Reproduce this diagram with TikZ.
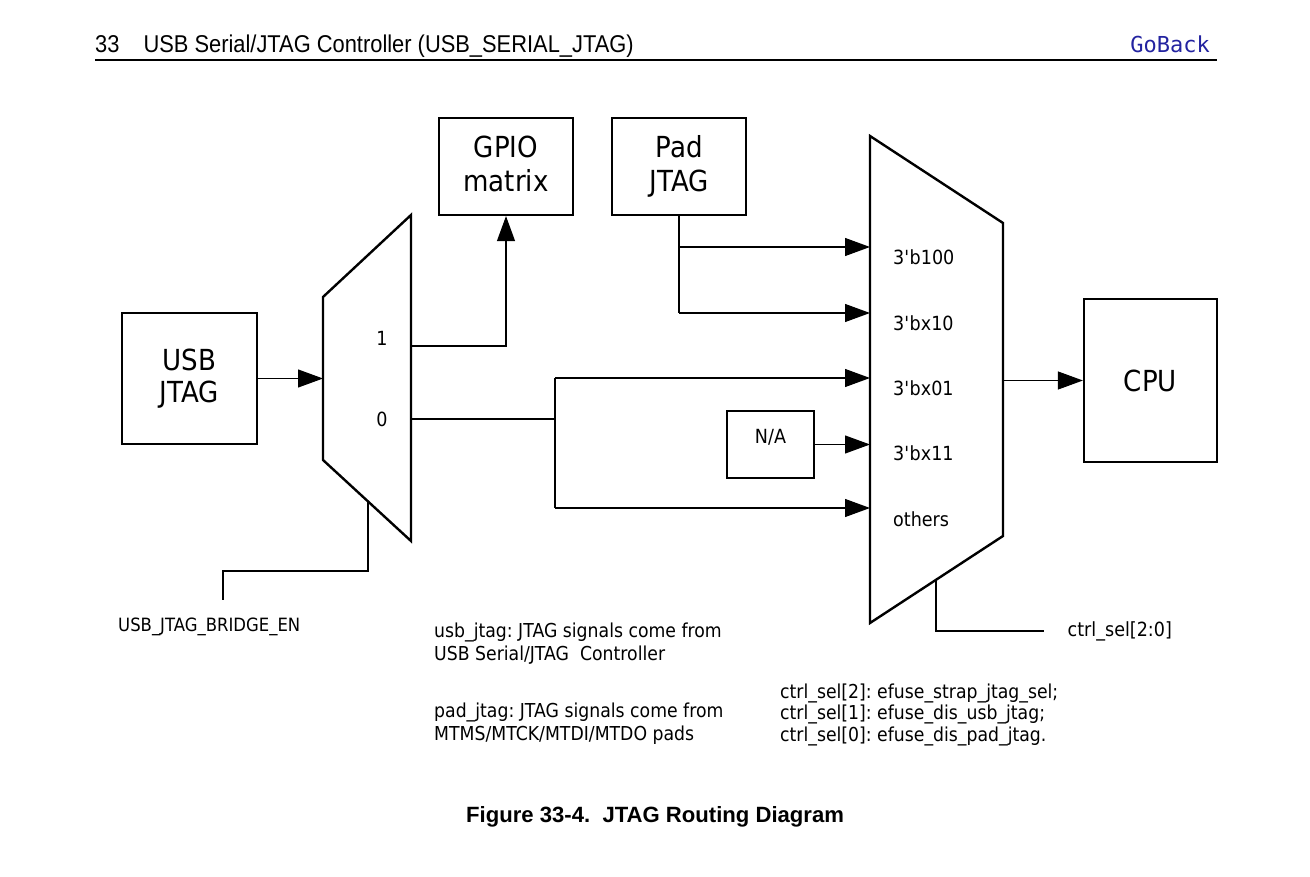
\documentclass[tikz,border=0pt]{standalone}
\usepackage{fontspec}
\setmainfont[FakeStretch=0.9]{DejaVu Sans}
\newfontfamily\hdrfont[FakeStretch=0.9]{Liberation Sans}
\newfontfamily\capfont{Liberation Sans}
\newfontfamily\gofont{DejaVu Sans Mono}
\usetikzlibrary{arrows.meta}
\definecolor{goblue}{RGB}{35,35,160}
\frenchspacing
\begin{document}
\begin{tikzpicture}[x=1pt,y=-1pt,
  box/.style={draw, line width=2.2pt, inner sep=0pt, align=center,
    font=\fontsize{29}{33.4}\selectfont},
  mux/.style={draw, line width=2.4pt, line join=miter},
  wire/.style={line width=1.1pt},
  arr/.style={wire, -{Triangle[length=25pt,width=18pt]}},
  lbl/.style={inner sep=0pt, font=\fontsize{19.5}{23}\selectfont},
  note/.style={inner sep=0pt, align=left, font=\fontsize{19.2}{23}\selectfont}]
\useasboundingbox (0,0) rectangle (1310,877);

% header
\node[inner sep=0pt, anchor=base west, font=\hdrfont\fontsize{24.3}{28}\selectfont] (hdr) at (95,53) {33\hspace{24pt}USB Serial/JTAG Controller (USB\_SERIAL\_JTAG)};
\node[inner sep=0pt, anchor=base east, text=goblue, font=\gofont\fontsize{22}{26}\selectfont] (goback) at (1210,53) {GoBack};
\coordinate (rl) at (95,60);
\coordinate (rr) at (1217,60);
\draw[line width=1.4pt] (rl) -- (rr);

% boxes
\node[box, minimum width=135pt, minimum height=131pt, font=\fontsize{29}{32}\selectfont] (usb) at (189.5,378.5) {USB\\JTAG};
\node[box, minimum width=134pt, minimum height=97pt] (gpio) at (506,166.5) {GPIO\\matrix\vphantom{J}};
\node[box, minimum width=134pt, minimum height=97pt] (pad) at (679,166.5) {Pad\\JTAG};
\node[box, minimum width=133pt, minimum height=163pt] (cpu) at (1150.5,380.5) {CPU};
\node[draw, line width=2.2pt, inner sep=0pt, minimum width=87pt, minimum height=67pt] (na) at (770.5,444.5) {};
\node[lbl] (natext) at (770.5,437) {N/A};

% mux 1
\coordinate (m1a) at (323,297);
\coordinate (m1b) at (411,215);
\coordinate (m1c) at (411,541);
\coordinate (m1d) at (323,460);
\draw[mux] (m1a) -- (m1b) -- (m1c) -- (m1d) -- cycle;
\node[lbl] (one) at (382,338) {1};
\node[lbl] (zero) at (382,419) {0};

% mux 2
\coordinate (m2a) at (870,136);
\coordinate (m2b) at (1003,223);
\coordinate (m2c) at (1003,536);
\coordinate (m2d) at (870,623);
\draw[mux] (m2a) -- (m2b) -- (m2c) -- (m2d) -- cycle;
\node[lbl, anchor=base west] (s100) at (893,265) {3\textquotesingle b100};
\node[lbl, anchor=base west] (sx10) at (893,330.5) {3\textquotesingle bx10};
\node[lbl, anchor=base west] (sx01) at (893,395.5) {3\textquotesingle bx01};
\node[lbl, anchor=base west] (sx11) at (893,460.5) {3\textquotesingle bx11};
\node[lbl, anchor=base west] (soth) at (893,526) {others};

% connector points
\coordinate (m1in) at (323,378.5);
\coordinate (m1o1) at (411,346);
\coordinate (m1o0) at (411,419);
\coordinate (j0) at (555,419);
\coordinate (j0t) at (555,378);
\coordinate (j0b) at (555,508);
\coordinate (i100) at (870,247);
\coordinate (ix10) at (870,313);
\coordinate (ix01) at (870,378);
\coordinate (ix11) at (870,444.5);
\coordinate (ioth) at (870,508);
\coordinate (pb) at (679,247);
\coordinate (pc) at (679,313);
\coordinate (m2out) at (1003,380.5);

\draw[arr] (usb.east) -- (m1in);
\draw[arr] (m1o1) -| (gpio.south);
\draw[wire] (m1o0) -- (j0);
\draw[wire] (j0t) -- (j0b);
\draw[arr] (j0t) -- (ix01);
\draw[arr] (j0b) -- (ioth);
\draw[wire] (pad.south) -- (pc);
\draw[arr] (pb) -- (i100);
\draw[arr] (pc) -- (ix10);
\draw[arr] (na.east) -- (ix11);
\draw[arr] (m2out) -- (cpu.west);

% select lines
\coordinate (s1a) at (368,501.4);
\coordinate (s1b) at (368,571);
\coordinate (s1c) at (223,571);
\coordinate (s1d) at (223,600);
\draw[wire] (s1a) -- (s1b) -- (s1c) -- (s1d);
\node[lbl, anchor=base west, font=\fontsize{18.3}{22}\selectfont] (bridge) at (118,631.7) {USB\_JTAG\_BRIDGE\_EN};

\coordinate (s2a) at (936,579.8);
\coordinate (s2b) at (936,631);
\coordinate (s2c) at (1044,631);
\draw[wire] (s2a) -- (s2b) -- (s2c);
\node[lbl, anchor=base west] (ctrl) at (1067.5,636.7) {ctrl\_sel[2:0]};

% notes (base anchor = last line)
\node[note, anchor=base west] (n1) at (434,660) {usb\_jtag: JTAG signals come from\\USB Serial/JTAG\ \ Controller};
\node[note, anchor=base west] (n2) at (434,740) {pad\_jtag: JTAG signals come from\\MTMS/MTCK/MTDI/MTDO pads};
\node[note, anchor=base west, font=\fontsize{19.2}{21.85}\selectfont] (n3) at (780,741.7) {ctrl\_sel[2]: efuse\_strap\_jtag\_sel;\\ctrl\_sel[1]: efuse\_dis\_usb\_jtag;\\ctrl\_sel[0]: efuse\_dis\_pad\_jtag.};

% caption
\node[inner sep=0pt, anchor=base west, font=\capfont\bfseries\fontsize{22.1}{26}\selectfont] (caption) at (466,822) {Figure 33-4.\ \ JTAG Routing Diagram};
\end{tikzpicture}
\end{document}
